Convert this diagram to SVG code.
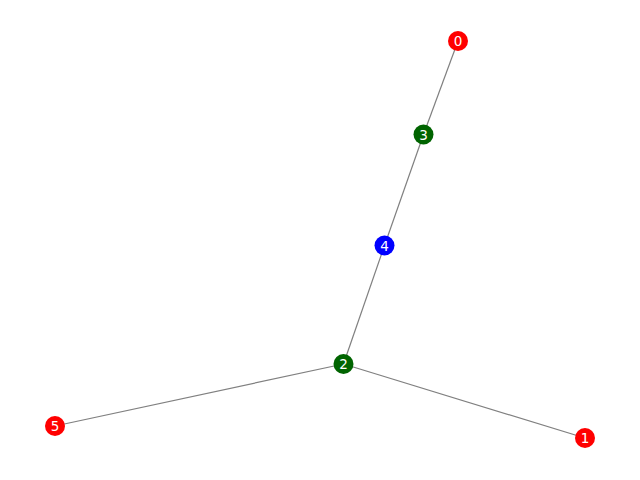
<svg xmlns="http://www.w3.org/2000/svg" width="640" height="480" viewBox="0 0 640 480">
<style>
.e{stroke:#808080;stroke-width:1.2;fill:none}
.n text{font-family:"DejaVu Sans",sans-serif;font-size:13.5px;fill:#fff;text-anchor:middle;dominant-baseline:central}
.red{fill:#ff0000}.grn{fill:#006400}.blu{fill:#0000ff}
</style>
<rect width="640" height="480" fill="#fff"/>
<g id="edges">
<line class="e" x1="458" y1="41" x2="423.5" y2="134.5"/>
<line class="e" x1="423.5" y1="134.5" x2="384.5" y2="245.5"/>
<line class="e" x1="384.5" y1="245.5" x2="343.5" y2="364"/>
<line class="e" x1="343.5" y1="364" x2="55" y2="426"/>
<line class="e" x1="343.5" y1="364" x2="585" y2="438"/>
</g>
<g id="node0" class="n"><circle class="red" cx="458" cy="41" r="10"/><text x="458" y="41">0</text></g>
<g id="node1" class="n"><circle class="red" cx="585" cy="438" r="10"/><text x="585" y="438">1</text></g>
<g id="node2" class="n"><circle class="grn" cx="343.5" cy="364" r="10"/><text x="343.5" y="364">2</text></g>
<g id="node3" class="n"><circle class="grn" cx="423.5" cy="134.5" r="10"/><text x="423.5" y="134.5">3</text></g>
<g id="node4" class="n"><circle class="blu" cx="384.5" cy="245.5" r="10"/><text x="384.5" y="245.5">4</text></g>
<g id="node5" class="n"><circle class="red" cx="55" cy="426" r="10"/><text x="55" y="426">5</text></g>
</svg>
